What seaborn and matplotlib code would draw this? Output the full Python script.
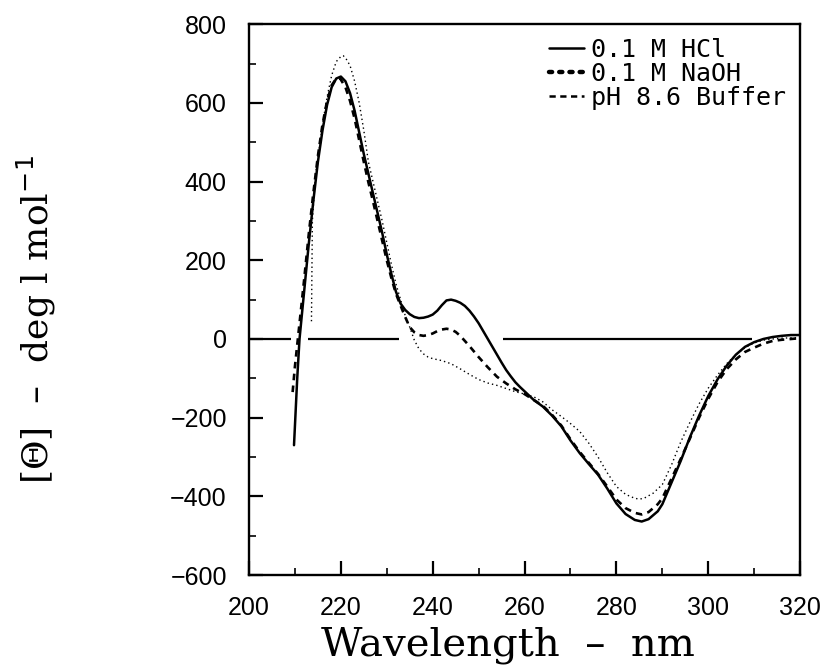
import numpy as np
import pandas as pd
import matplotlib
matplotlib.use("Agg")
import matplotlib.pyplot as plt
from matplotlib.lines import Line2D
from matplotlib.ticker import MultipleLocator
import seaborn as sns

# ---- data ----
hcl_wl = [209.8, 210.5, 211, 212, 213, 214, 215, 216, 217, 218, 219, 220, 221, 222, 223, 224,
          225, 226, 227, 228, 229, 230, 231, 232, 233, 234, 235, 236, 237, 238, 239, 240, 241,
          242, 243, 244, 245, 246, 247, 248, 249, 250, 251, 252, 253, 254, 255, 256, 257, 258,
          259, 260, 262, 264, 266, 268, 270, 272, 274, 276, 278, 280, 282, 284, 285.5, 287,
          289, 290, 292, 294, 296, 298, 300, 302, 304, 306, 308, 310, 312, 314, 316, 318, 320]
hcl_val = [-270, -100, 0, 120, 240, 350, 450, 530, 595, 640, 662, 667, 655, 625, 580, 525,
           470, 420, 370, 320, 270, 215, 165, 120, 90, 74, 63, 56, 53, 54, 57, 62, 72,
           86, 98, 100, 97, 92, 84, 72, 57, 40, 20, 0, -20, -40, -60, -79, -95, -110,
           -122, -133, -155, -172, -195, -222, -258, -290, -318, -345, -380, -418, -445, -460, -464, -458,
           -438, -420, -365, -310, -250, -195, -145, -103, -68, -40, -20, -8, 0, 5, 8, 10, 10]

naoh_wl = [213.6, 213.8, 214.5, 215.5, 216, 217, 218, 219, 220, 220.5, 221, 222, 223, 224, 225,
           226, 227, 228, 229, 230, 231, 232, 233, 234, 235, 236, 237, 238, 239, 240, 242, 244,
           246, 248, 250, 252, 254, 256, 258, 260, 262, 264, 266, 268, 270, 272, 274, 276, 278,
           280, 282, 284, 285, 286, 288, 290, 292, 294, 296, 298, 300, 302, 304, 306, 308, 310,
           312, 314, 316, 318, 320]
naoh_val = [45, 300, 420, 500, 545, 615, 670, 705, 718, 720, 715, 695, 655, 600, 530,
            450, 400, 350, 300, 245, 190, 140, 100, 60, 30, -3, -25, -38, -46, -50, -55, -63,
            -76, -90, -103, -112, -118, -126, -134, -140, -147, -160, -180, -197, -215, -235, -265, -300, -340,
            -375, -395, -405, -407, -405, -392, -370, -320, -262, -212, -165, -125, -92, -63, -40, -22, -10,
            -3, 0, 2, 3, 3]

buf_wl = [209.5, 210, 211, 212, 213, 214, 215, 216, 217, 218, 219, 219.8, 221, 222, 223, 224,
          225, 226, 227, 228, 229, 230, 231, 232, 233, 234, 235, 236, 237, 238, 239, 240, 241,
          242, 243, 244, 245, 246, 247, 248, 249, 250, 252, 254, 256, 258, 260, 262, 264, 266,
          268, 270, 272, 274, 276, 278, 280, 282, 284, 285.5, 287, 289, 290, 292, 294, 296, 298,
          300, 302, 304, 306, 308, 310, 312, 314, 316, 318, 320]
buf_val = [-135, -70, 40, 150, 265, 370, 465, 545, 605, 645, 662, 663, 640, 605, 560, 505,
           450, 398, 350, 300, 250, 200, 155, 115, 85, 56, 30, 17, 10, 8, 10, 14, 20,
           24, 26, 24, 18, 8, -5, -18, -32, -46, -72, -96, -113, -128, -140, -155, -170, -193,
           -220, -255, -287, -315, -343, -375, -408, -430, -442, -446, -440, -420, -405, -355, -305, -253, -200,
           -152, -110, -77, -52, -33, -22, -12, -5, -2, 0, 2]

zero_seg_start = [200, 212.9, 255.2]
zero_seg_end = [209.2, 232.7, 309.5]

labels = ["0.1 M HCl", "0.1 M NaOH", "pH 8.6 Buffer"]
x_ticks = [200, 220, 240, 260, 280, 300, 320]
y_ticks = [-600, -400, -200, 0, 200, 400, 600, 800]

# ---- plotting ----
sns.set_theme(style="ticks")
plt.rcParams['font.family'] = ['Liberation Sans', 'DejaVu Sans']
plt.rcParams['text.color'] = 'black'

fig = plt.figure(figsize=(8.3, 6.66), dpi=100)
ax = fig.add_axes([0.300, 0.1366, 0.664, 0.827])

df_hcl = pd.DataFrame({"wl": hcl_wl, "val": hcl_val})
df_naoh = pd.DataFrame({"wl": naoh_wl, "val": naoh_val})
df_buf = pd.DataFrame({"wl": buf_wl, "val": buf_val})

sns.lineplot(data=df_hcl, x="wl", y="val", ax=ax, color="black", lw=1.8, sort=False)
sns.lineplot(data=df_naoh, x="wl", y="val", ax=ax, color="black", lw=1.0, sort=False,
             linestyle=(0, (1.0, 2.2)))
sns.lineplot(data=df_buf, x="wl", y="val", ax=ax, color="black", lw=1.9, sort=False,
             linestyle=(0, (2.5, 2.0)))

ax.hlines([0] * len(zero_seg_start), zero_seg_start, zero_seg_end, color="black", lw=1.6)

ax.set_xlim(200, 320)
ax.set_ylim(-600, 800)
ax.set_xticks(x_ticks)
ax.set_yticks(y_ticks)
ax.xaxis.set_minor_locator(MultipleLocator(10))
ax.yaxis.set_minor_locator(MultipleLocator(100))
ax.tick_params(which="major", direction="in", length=10, width=1.6, labelsize=18,
               colors="black", top=False, right=False)
ax.tick_params(which="minor", direction="in", length=5, width=1.4, top=False, right=False)
ax.tick_params(axis="x", which="major", pad=15)
ax.tick_params(axis="y", which="major", pad=16)
for s in ax.spines.values():
    s.set_linewidth(1.7)
    s.set_color("black")
ax.set_xlabel("")
ax.set_ylabel("")

fig.text(0.612, 1 - 645 / 666, "Wavelength  \u2013  nm", ha="center", va="center",
         fontsize=29, family="DejaVu Serif", color="black")
fig.text(36 / 830, 1 - 320 / 666, "[\u0398]  \u2013  deg l mol$^{-1}$", ha="center", va="center",
         rotation=90, fontsize=26, family="DejaVu Serif", color="black")

handles = [Line2D([], [], color="black", lw=1.8),
           Line2D([], [], color="black", lw=3.2, linestyle=(0, (0.7, 1.6)), dash_capstyle="round"),
           Line2D([], [], color="black", lw=1.8, linestyle=(0, (2.5, 1.8)))]
leg = ax.legend(handles, labels, loc="upper right", frameon=False,
                prop={"family": "DejaVu Sans Mono", "size": 18},
                handlelength=1.4, handletextpad=0.3, labelspacing=0.0,
                borderaxespad=0.15, bbox_to_anchor=(1.0, 1.0))

fig.savefig("out.png", dpi=100, facecolor="white")
